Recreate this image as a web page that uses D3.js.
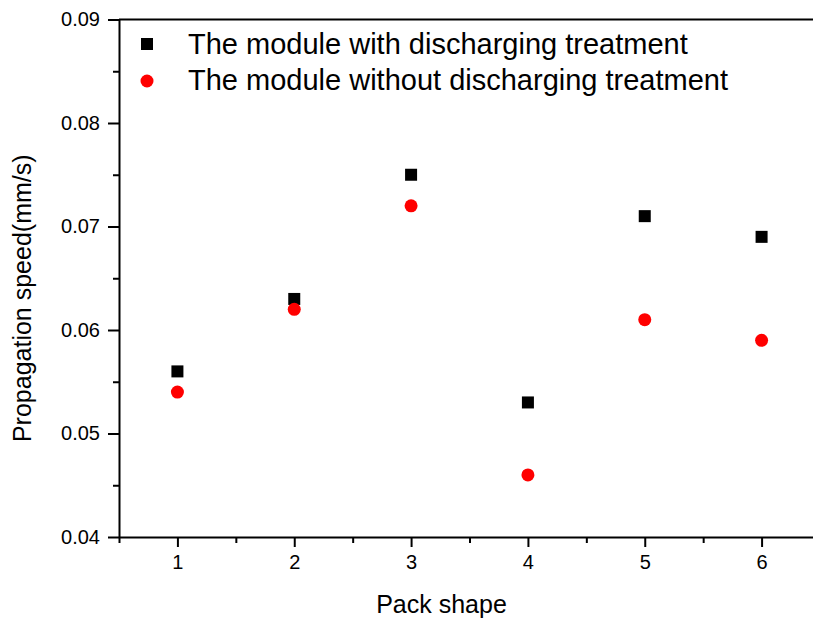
<!DOCTYPE html>
<html>
<head>
<meta charset="utf-8">
<script src="https://cdn.jsdelivr.net/npm/d3@7"></script>
<style>
  body { margin: 0; background: #fff; }
  text { font-family: Arial, "Liberation Sans", sans-serif; fill: #000; }
</style>
</head>
<body>
<div id="chart"></div>
<script>
const shapes = [1, 2, 3, 4, 5, 6];
const withDischarge = [0.056, 0.063, 0.075, 0.053, 0.071, 0.069];
const withoutDischarge = [0.054, 0.062, 0.072, 0.046, 0.061, 0.059];
const yTicks = [0.04, 0.05, 0.06, 0.07, 0.08, 0.09];
const seriesNames = ["The module with discharging treatment", "The module without discharging treatment"];

const W = 813, H = 618;
const margin = { top: 19.5, right: -7, bottom: 81, left: 119 },
    width = W - margin.left - margin.right,
    height = H - margin.top - margin.bottom;

const svg = d3.select("#chart")
    .append("svg")
    .attr("width", W)
    .attr("height", H)
    .append("g")
    .attr("transform", `translate(${margin.left},${margin.top})`);

const x = d3.scaleLinear().domain([0.5, 6.5]).range([0, width]);
const y = d3.scaleLinear().domain([0.04, 0.09]).range([height, 0]);

// minor ticks
svg.append("g")
    .attr("transform", `translate(0,${height})`)
    .call(d3.axisBottom(x).tickValues(d3.range(0.5, 6.6, 1)).tickSize(6).tickFormat(""))
    .call(g => g.select(".domain").remove())
    .selectAll("line").attr("stroke-width", 2);
svg.append("g")
    .call(d3.axisLeft(y).tickValues(d3.range(0.045, 0.09, 0.01)).tickSize(6).tickFormat(""))
    .call(g => g.select(".domain").remove())
    .selectAll("line").attr("stroke-width", 2);

// X axis
const xAxis = svg.append("g")
    .attr("transform", `translate(0,${height})`)
    .call(d3.axisBottom(x).tickValues(shapes).tickSize(10).tickSizeOuter(0).tickPadding(8).tickFormat(d3.format("d")));
xAxis.selectAll("text").attr("font-size", 20).attr("font-family", "Arial, 'Liberation Sans', sans-serif");

// Y axis
const yAxis = svg.append("g")
    .call(d3.axisLeft(y).tickValues(yTicks).tickSize(11).tickSizeOuter(0).tickPadding(8).tickFormat(d3.format(".2f")));
yAxis.selectAll("text").attr("font-size", 20).attr("font-family", "Arial, 'Liberation Sans', sans-serif");

svg.selectAll(".domain, .tick line").attr("stroke-width", 2);

// top border
svg.append("line")
    .attr("x1", 0).attr("x2", width)
    .attr("y1", 0).attr("y2", 0)
    .attr("stroke", "#000").attr("stroke-width", 2);

// axis titles
svg.append("text")
    .attr("x", x(3.5) - 28)
    .attr("y", height + 76)
    .attr("text-anchor", "middle")
    .attr("font-size", 25)
    .text("Pack shape");

svg.append("text")
    .attr("transform", `translate(${-margin.left + 31},${height / 2 + 20}) rotate(-90)`)
    .attr("text-anchor", "middle")
    .attr("font-size", 25)
    .text("Propagation speed(mm/s)");

// points
svg.append("g")
    .selectAll("rect")
    .data(shapes)
    .join("rect")
    .attr("x", (d, i) => x(d) - 6)
    .attr("y", (d, i) => y(withDischarge[i]) - 6)
    .attr("width", 12)
    .attr("height", 12)
    .attr("fill", "#000");

svg.append("g")
    .selectAll("circle")
    .data(shapes)
    .join("circle")
    .attr("cx", d => x(d))
    .attr("cy", (d, i) => y(withoutDischarge[i]))
    .attr("r", 6.5)
    .attr("fill", "#ff0000");

// legend
const legend = svg.append("g").attr("transform", "translate(28,0)");
legend.append("rect")
    .attr("x", -6).attr("y", 24.5 - 6)
    .attr("width", 12).attr("height", 12)
    .attr("fill", "#000");
legend.append("circle")
    .attr("cx", 0).attr("cy", 61.5)
    .attr("r", 6.5)
    .attr("fill", "#ff0000");
legend.selectAll("text")
    .data(seriesNames)
    .join("text")
    .attr("x", 41)
    .attr("y", (d, i) => 34.5 + i * 36)
    .attr("font-size", 29)
    .text(d => d);
</script>
</body>
</html>
